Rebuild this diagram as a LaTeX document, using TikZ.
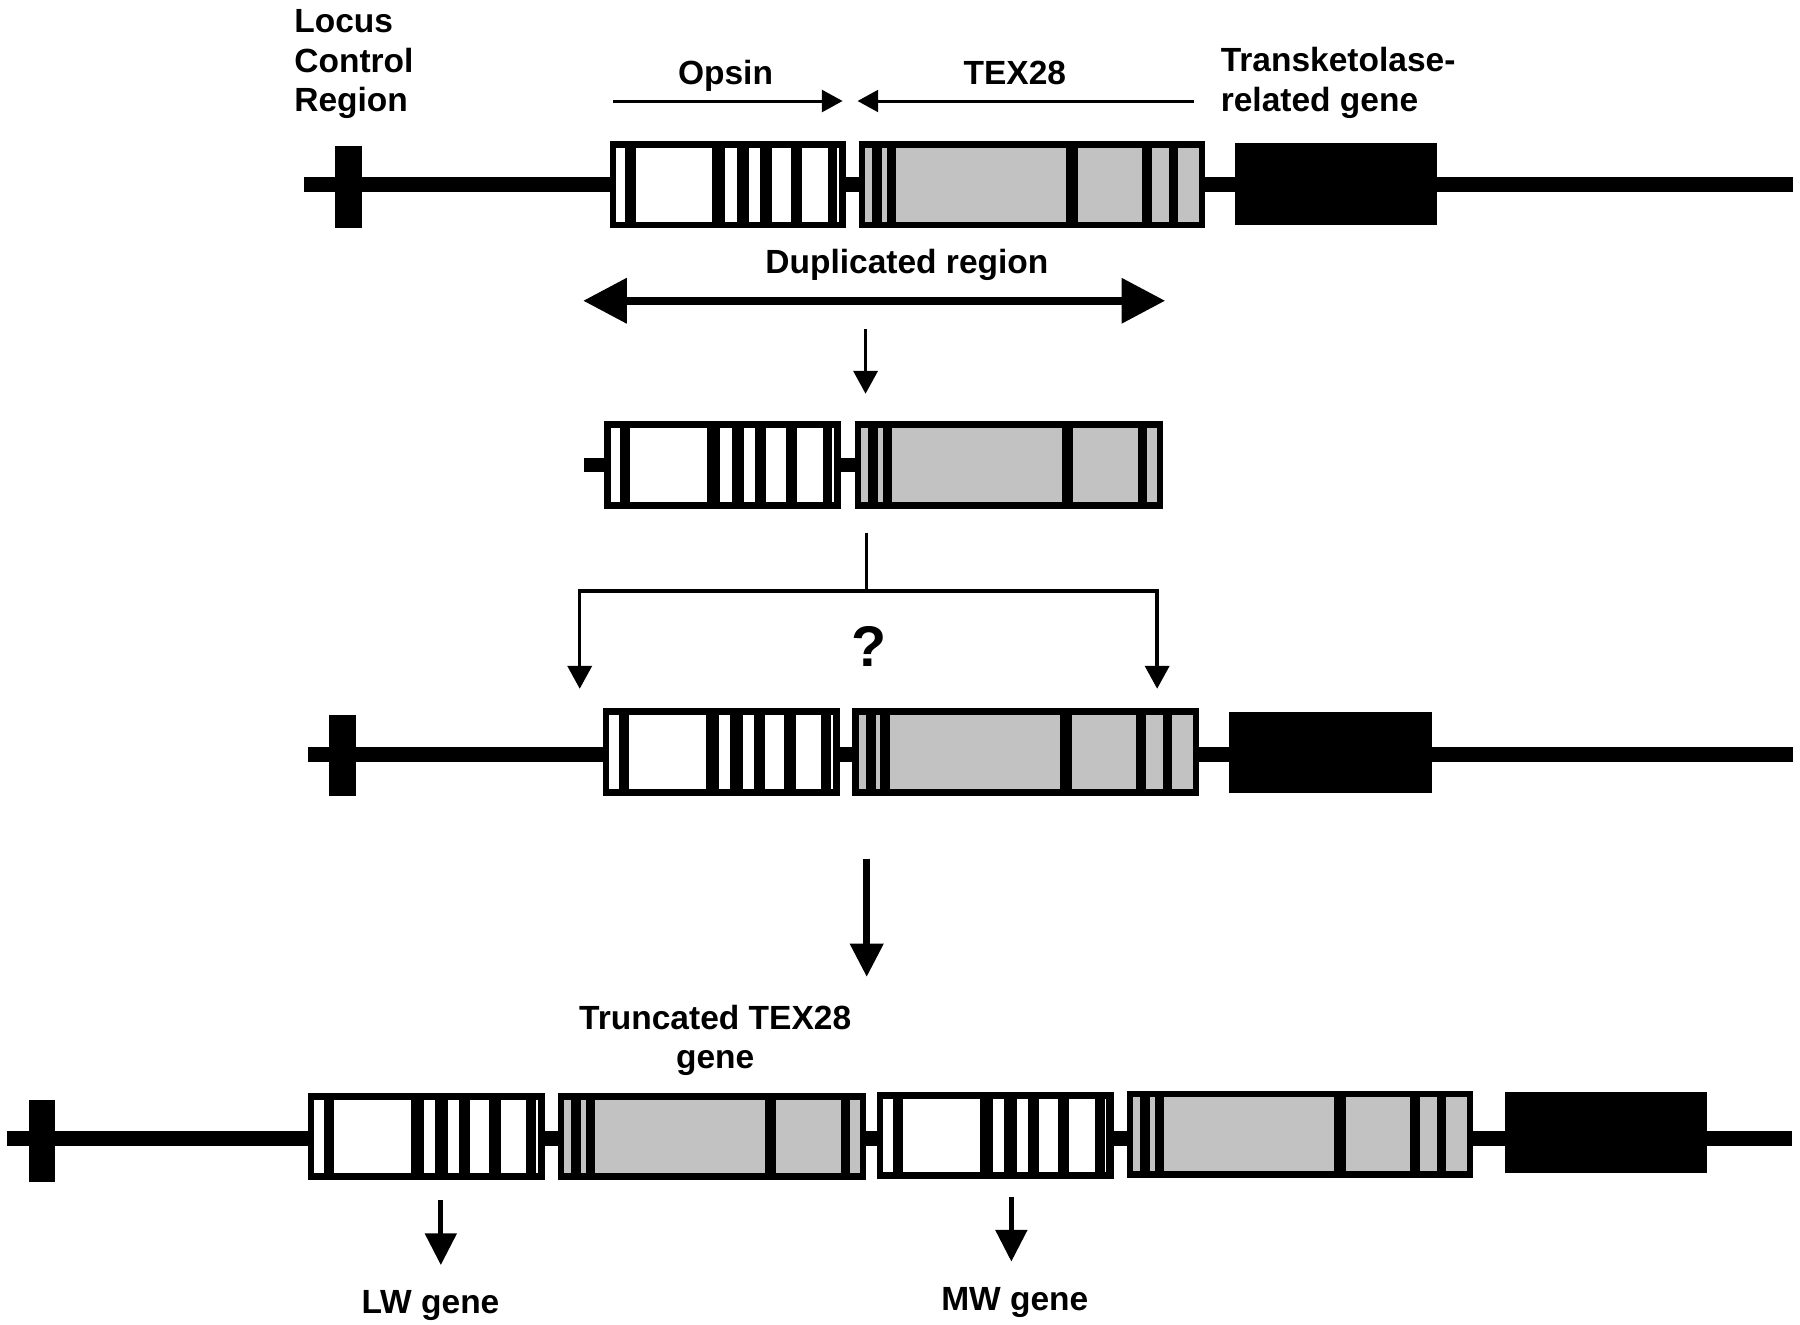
\documentclass[tikz,border=0pt]{standalone}
\usepackage{fontspec}
\setmainfont{Liberation Sans}
\usetikzlibrary{arrows.meta}
\definecolor{speck}{gray}{0.76}
\newcommand\opsinunit[3]{%
  \begin{scope}[shift={(#2,#3)}]
    \coordinate (#1) at (103,0);
    \fill[black] (0,-38) rectangle (206,38);
    \foreach \a/\b in {5.4/13.6,22.7/89.4,100.9/110.8,121.7/131.4,141.1/157.8,167.5/190.1,198.2/199.8}
      \fill[white] (\a,-32) rectangle (\b,32);
  \end{scope}}
\newcommand\texunit[3]{%
  \begin{scope}[shift={(#2,#3)}]
    \coordinate (#1) at (151,0);
    \fill[black] (0,-38) rectangle (302,38);
    \foreach \a/\b in {5.7/11.8,20.2/24.5,32.6/180.6,190.9/246.7,255.8/270.3,278.1/296.3}
      \fill[speck] (\a,-32) rectangle (\b,32);
  \end{scope}}
\newcommand\trtexunit[3]{%
  \begin{scope}[shift={(#2,#3)}]
    \coordinate (#1) at (134,0);
    \fill[black] (0,-38) rectangle (268,38);
    \foreach \a/\b in {5.1/11.3,19.8/24.1,31.9/180.4,190/246.3,254.3/262.9}
      \fill[speck] (\a,-32) rectangle (\b,32);
  \end{scope}}
\newcommand\tkunit[3]{%
  \begin{scope}[shift={(#2,#3)}]
    \coordinate (#1) at (88,0);
    \fill[black] (0,-35.5) rectangle (176,35.5);
  \end{scope}}
\newcommand\lcrunit[3]{%
  \begin{scope}[shift={(#2,#3)}]
    \coordinate (#1) at (11.5,0);
    \fill[black] (0,-35.5) rectangle (23,35.5);
  \end{scope}}
\begin{document}
\begin{tikzpicture}[x=0.5pt,y=-0.5pt,
  lbl/.style={font=\fontsize{14.6}{17}\selectfont\bfseries, inner sep=0pt},
  backbone/.style={line width=6.5pt},
  thinarrow/.style={line width=1.3pt,-{Triangle[length=9pt,width=9.5pt]}},
  midarrow/.style={line width=1.5pt,-{Triangle[length=10pt,width=10.5pt]}},
  genearrow/.style={line width=2.2pt,-{Triangle[length=13.8pt,width=13.5pt]}},
  bigarrow/.style={line width=3pt,-{Triangle[length=14.5pt,width=14pt]}}]
\useasboundingbox (0,0) rectangle (1568,1154);

% ---------- row 1 ----------
\draw[backbone] (265,161) -- (1562,161);
\lcrunit{lcrA}{292}{163}
\opsinunit{opsA}{531}{161}
\texunit{texA}{748}{161}
\tkunit{tkA}{1076}{160.5}

\node[lbl,anchor=base west] (t1) at (256,28) {Locus};
\node[lbl,anchor=base west] (t2) at (256,63) {Control};
\node[lbl,anchor=base west] (t3) at (256,97) {Region};
\node[lbl,anchor=base] (topsin) at (632,74) {Opsin};
\node[lbl,anchor=base] (ttex) at (884,74) {TEX28};
\node[lbl,anchor=base west] (ttk1) at (1063,62) {Transketolase-};
\node[lbl,anchor=base west] (ttk2) at (1063,97) {related gene};

\coordinate (oa1) at (534,88);
\coordinate (oa2) at (734,88);
\coordinate (ta1) at (1040,88);
\coordinate (ta2) at (747,88);
\draw[thinarrow] (oa1) -- (oa2);
\draw[thinarrow] (ta1) -- (ta2);

\node[lbl,anchor=base] (tdup) at (790,238) {Duplicated region};
\coordinate (dupL) at (508,262);
\coordinate (dupR) at (1015,262);
\draw[line width=3.5pt,{Triangle[length=19pt,width=19pt]}-{Triangle[length=19pt,width=19pt]}] (dupL) -- (dupR);

\coordinate (d1a) at (754,287);
\coordinate (d1b) at (754,343);
\draw[midarrow] (d1a) -- (d1b);

% ---------- row 2 ----------
\coordinate (stubL) at (509,405);
\coordinate (stubR) at (745,405);
\draw[line width=6pt] (stubL) -- (stubR);
\opsinunit{opsB}{526.5}{405}
\trtexunit{texB}{745}{405}

\coordinate (brTop) at (755,464);
\coordinate (brMid) at (755,515);
\coordinate (brL) at (505,600);
\coordinate (brR) at (1008,600);
\draw[line width=1.5pt] (brTop) -- (brMid);
\draw[line width=1.5pt,{Triangle[length=10pt,width=10.5pt]}-{Triangle[length=10pt,width=10.5pt]}]
  (brL) |- (brMid) -| (brR);
\node[font=\fontsize{25}{30}\selectfont\bfseries, inner sep=0pt] (tq) at (757,563) {?};

% ---------- row 3 ----------
\draw[backbone] (268,657) -- (1562,657);
\lcrunit{lcrC}{287}{658}
\opsinunit{opsC}{525.5}{655}
\texunit{texC}{742.5}{655}
\tkunit{tkC}{1071}{655.5}

\coordinate (d2a) at (755,748);
\coordinate (d2b) at (755,851);
\draw[bigarrow] (d2a) -- (d2b);

% ---------- row 4 ----------
\node[lbl,anchor=base] (ttr1) at (623,897) {Truncated TEX28};
\node[lbl,anchor=base] (ttr2) at (623,931) {gene};

\draw[backbone] (6,992) -- (1561,992);
\lcrunit{lcrD}{25}{994}
\opsinunit{opsD}{268.5}{990}
\trtexunit{texD}{486}{990}
\opsinunit{opsE}{764}{989}
\texunit{texE}{981.5}{988}
\tkunit{tkE}{1311}{986.5}

\coordinate (lwa) at (384,1045);
\coordinate (lwb) at (384,1102);
\coordinate (mwa) at (881,1043);
\coordinate (mwb) at (881,1099);
\draw[genearrow] (lwa) -- (lwb);
\draw[genearrow] (mwa) -- (mwb);
\node[lbl,anchor=base] (tlw) at (375,1144) {LW gene};
\node[lbl,anchor=base] (tmw) at (884,1142) {MW gene};
\end{tikzpicture}
\end{document}
